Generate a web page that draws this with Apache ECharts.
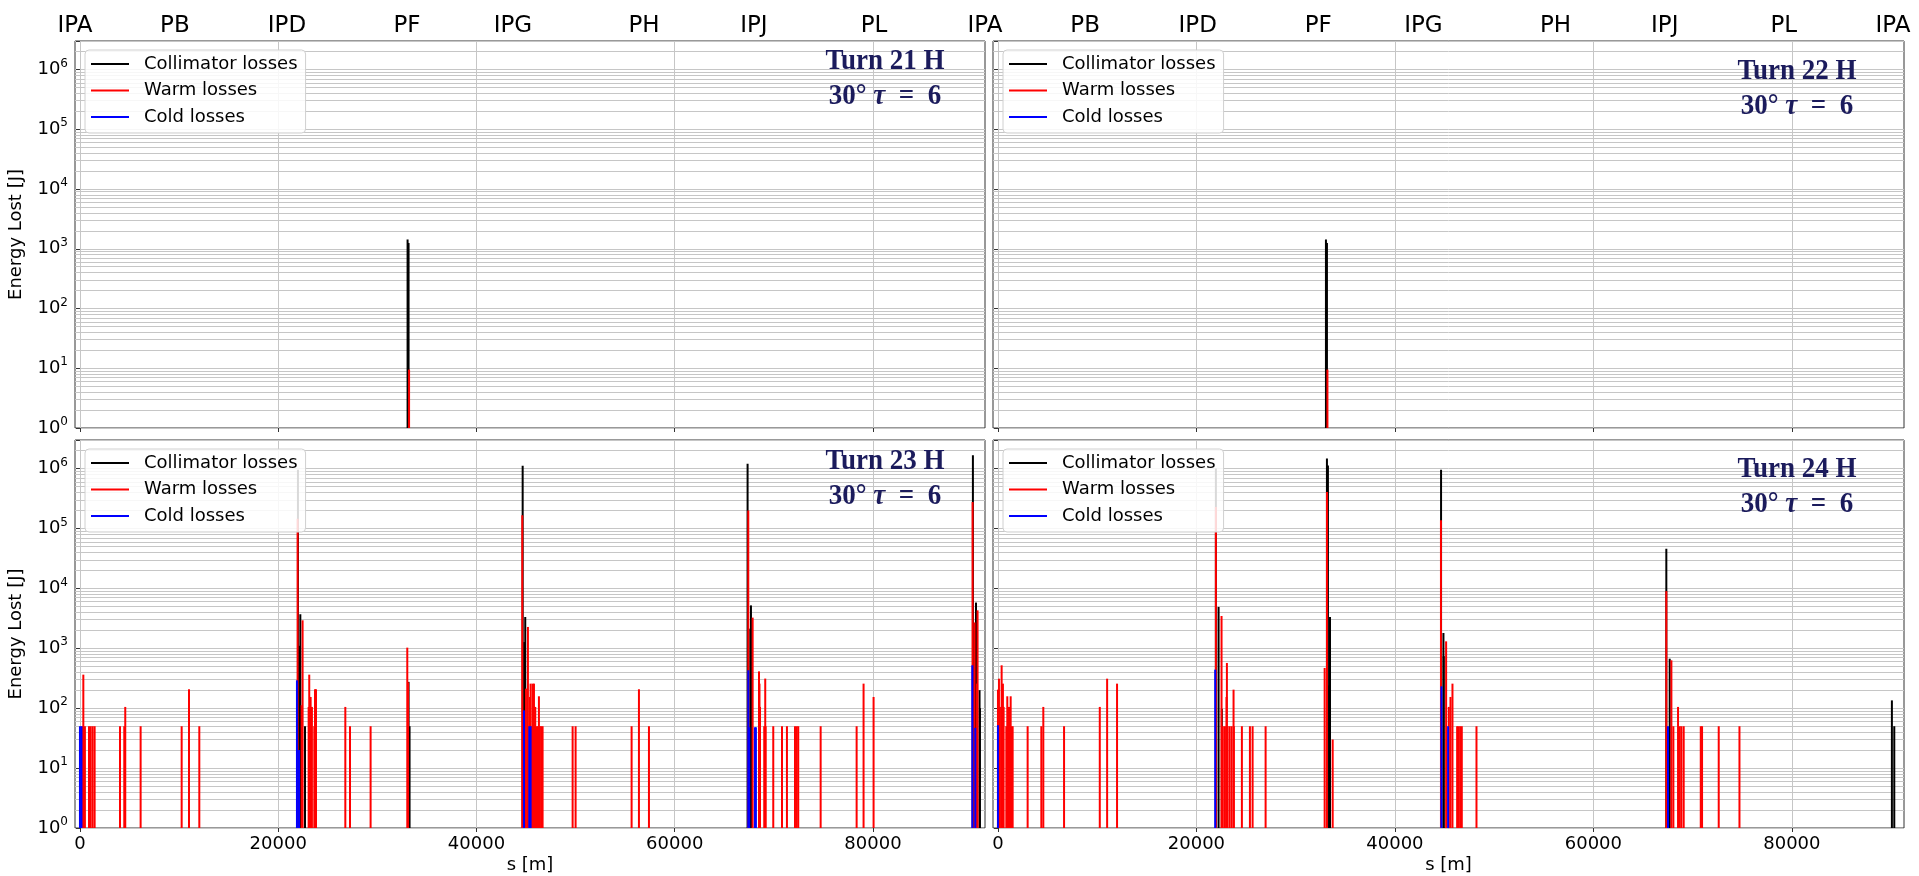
<!DOCTYPE html>
<html><head><meta charset="utf-8">
<script src="https://cdn.jsdelivr.net/npm/echarts@6/dist/echarts.min.js"></script>
<style>html,body{margin:0;padding:0;background:#fff}#c{width:1919px;height:876px}</style>
</head><body><div id="c"></div>
<script>
// ---------------- data ----------------
const seriesNames = ['Collimator losses', 'Warm losses', 'Cold losses'];
const panelTitles = ['Turn 21 H', 'Turn 22 H', 'Turn 23 H', 'Turn 24 H'];
const xTicks = [0, 20000, 40000, 60000, 80000];
const topLabelsLeft = ['IPA', 'PB', 'IPD', 'PF', 'IPG', 'PH', 'IPJ', 'PL', 'IPA'];
const topPosLeft = [-500, 9580, 20880, 32990, 43680, 56900, 67990, 80100, 91300];
const topLabelsRight = ['PB', 'IPD', 'PF', 'IPG', 'PH', 'IPJ', 'PL', 'IPA'];
const topPosRight = [8780, 20130, 32280, 42870, 56190, 67190, 79190, 90190];

// Turn 21 H
const coll21 = [[33050, 1430], [33150, 1250]];
const warm21 = [[33200, 9.5]];
const cold21 = [];
// Turn 22 H
const coll22 = [[33050, 1430], [33150, 1250]];
const warm22 = [[33200, 9.5]];
const cold22 = [];
// Turn 23 H
const coll23 = [[21990, 960000], [22130, 1100], [22230, 3700], [22700, 50],
  [33150, 275], [33250, 50],
  [44660, 1120000], [44820, 1270], [44920, 3330],
  [67350, 1200000], [67620, 2130], [67690, 5200],
  [90080, 1670000], [90390, 5800], [90750, 200], [90790, 100]];
const warm23 = [[235, 50], [340, 363], [500, 50], [910, 50], [1080, 50], [1280, 50], [1480, 50],
  [4040, 50], [4470, 50], [4570, 105], [6120, 50], [10260, 50], [11000, 207], [12040, 50],
  [21960, 146000], [22360, 112], [22460, 2930], [23070, 105], [23130, 363], [23270, 154], [23400, 105],
  [23640, 50], [23710, 207], [23810, 207],
  [26770, 105], [27240, 50], [29320, 50],
  [33020, 1025], [33100, 270],
  [44620, 166000], [44990, 212], [45190, 2270], [45400, 154], [45460, 257], [45600, 50], [45660, 257],
  [45800, 257], [45900, 50], [45930, 105], [46070, 50], [46200, 50], [46300, 158], [46400, 50],
  [46540, 50], [46670, 50],
  [49700, 50], [50000, 50],
  [55650, 50], [56390, 207], [57400, 50],
  [67420, 200000], [67860, 3250], [68500, 412], [68550, 257], [68600, 105], [69030, 50], [69130, 312],
  [69170, 50], [69940, 50], [70820, 50], [71320, 50], [72130, 50], [72300, 50], [72460, 50],
  [74720, 50], [78350, 50], [79050, 257], [80060, 154],
  [90050, 277000], [90250, 2700], [90500, 257], [90550, 4300]];
const cold23 = [[0, 50], [150, 50], [21890, 292], [22100, 20], [44790, 92], [45330, 50], [45460, 50],
  [67420, 430], [67520, 48], [68090, 48], [68190, 48], [90020, 520], [90320, 47]];
// Turn 24 H
const coll24 = [[21960, 1000000], [22230, 4900], [22560, 98],
  [33150, 1470000], [33250, 1130000], [33400, 240], [33460, 3330],
  [44650, 960000], [44890, 1800], [44920, 740],
  [67350, 46000], [67690, 670],
  [90080, 135], [90320, 50]];
const warm24 = [[0, 204], [100, 311], [200, 105], [370, 520], [500, 257], [570, 105], [840, 50],
  [940, 158], [1010, 50], [1110, 105], [1180, 50], [1280, 158], [1350, 50], [1480, 50],
  [2990, 50], [4370, 50], [4570, 105], [6660, 50], [10260, 105], [11000, 311], [12000, 257],
  [21960, 228000], [22530, 3460], [22660, 50], [22870, 50], [23030, 154], [23070, 569], [23130, 50],
  [23340, 50], [23540, 50], [23740, 204], [23770, 50], [24580, 50], [25390, 50], [25660, 50], [26970, 50],
  [32920, 470], [33155, 407000], [33730, 30],
  [44640, 137000], [45160, 1306], [45430, 105], [45600, 154], [45800, 257], [46270, 50], [46400, 50],
  [46570, 50], [46740, 50], [48220, 50],
  [67350, 9000], [67860, 630], [68060, 50], [68530, 105], [68700, 50], [68870, 50], [69100, 50],
  [70820, 50], [70950, 50], [72630, 50], [74720, 50]];
const cold24 = [[0, 52], [21890, 440], [44690, 232], [45360, 50], [67520, 50]];

const panelData = [[coll21, warm21, cold21], [coll22, warm22, cold22], [coll23, warm23, cold23], [coll24, warm24, cold24]];

// ---------------- layout / style ----------------
const colors = ['#000000', '#ff0000', '#0000ff'];
const grids = [
  {left: 75, top: 41, width: 910, height: 387},
  {left: 993, top: 41, width: 911, height: 387},
  {left: 75, top: 440, width: 910, height: 388},
  {left: 993, top: 440, width: 911, height: 388}
];
const annPos = [[885, 61.5, 96], [1797, 71, 106], [885, 461, 496], [1797, 469, 504]];
const XMIN = -500, XMAX = 91300, YMIN = 1, YMAX = 3e6;
const FONT = 'DejaVu Sans';
const gridColor = '#c6c6c6';
const navy = '#1b1b5c';

const minorY = [];
for (let k = 0; k <= 6; k++) for (let m = 2; m <= 9; m++) { const v = m * Math.pow(10, k); if (v < YMAX) minorY.push(v); }

const option = {
  animation: false,
  backgroundColor: '#fff',
  grid: grids.map(g => Object.assign({show: true, borderColor: '#333', borderWidth: 1, backgroundColor: 'transparent', containLabel: false, outerBoundsMode: 'none', z: 0}, g)),
  xAxis: [], yAxis: [], series: [], legend: [], graphic: []
};

grids.forEach((g, i) => {
  const bottomRow = i >= 2, leftCol = i % 2 === 0;
  option.xAxis.push({
    type: 'value', gridIndex: i, min: XMIN, max: XMAX, splitNumber: 5,
    axisLine: {show: false},
    axisTick: {show: true, length: 4, lineStyle: {color: '#333'}, customValues: xTicks},
    axisLabel: {show: bottomRow, customValues: xTicks, fontFamily: FONT, fontSize: 18, color: '#000', margin: 7,
      formatter: v => (xTicks.indexOf(v) >= 0 ? String(v) : '')},
    splitLine: {show: true, lineStyle: {color: gridColor, width: 1}},
    name: bottomRow ? 's [m]' : '', nameLocation: 'middle', nameGap: 28,
    nameTextStyle: {fontFamily: FONT, fontSize: 18, color: '#000'}
  });
  option.yAxis.push({
    type: 'log', gridIndex: i, min: YMIN, max: YMAX, logBase: 10,
    axisLine: {show: false},
    axisTick: {show: true, length: 4, lineStyle: {color: '#333'}},
    axisLabel: {show: leftCol, margin: 7, fontFamily: FONT, color: '#000',
      formatter: v => { const e = Math.log10(v); const r = Math.round(e); return Math.abs(e - r) < 1e-6 ? '{b|10}{s|' + r + '}' : ''; },
      rich: {b: {fontFamily: FONT, fontSize: 18, color: '#000', lineHeight: 24},
             s: {fontFamily: FONT, fontSize: 12, color: '#000', lineHeight: 13, verticalAlign: 'top'}}},
    splitLine: {show: true, lineStyle: {color: gridColor, width: 1}},
    name: leftCol ? 'Energy Lost [J]' : '', nameLocation: 'middle', nameGap: 50,
    nameTextStyle: {fontFamily: FONT, fontSize: 18, color: '#000'}
  });
  // minor grid lines (below the bars)
  option.series.push({
    type: 'line', xAxisIndex: i, yAxisIndex: i, data: [], z: 1, silent: true,
    markLine: {silent: true, z: 1, zlevel: 0, symbol: ['none', 'none'], label: {show: false}, animation: false,
      lineStyle: {color: gridColor, width: 1, type: 'solid'}, emphasis: {disabled: true},
      data: minorY.map(v => ({yAxis: v}))}
  });
  panelData[i].forEach((d, k) => {
    option.series.push({
      type: 'bar', name: seriesNames[k], xAxisIndex: i, yAxisIndex: i, data: d,
      barWidth: 2, barGap: '-100%', z: 2 + k,
      itemStyle: {color: colors[k]}, emphasis: {disabled: true}, silent: true
    });
  });
  option.legend.push({
    orient: 'vertical', left: g.left + 10, top: g.top + 9, z: 10,
    data: seriesNames, icon: 'rect', itemWidth: 38, itemHeight: 2, itemGap: 6.5,
    backgroundColor: 'rgba(255,255,255,0.85)', borderColor: '#d0d0d0', borderWidth: 1, borderRadius: 4,
    padding: [4, 8, 6, 6], selectedMode: false,
    textStyle: {fontFamily: FONT, fontSize: 18, color: '#000', lineHeight: 20, padding: [0, 0, 0, 10]}
  });
  const a = annPos[i];
  option.graphic.push({
    type: 'text', x: a[0], y: a[1], scaleX: 0.9, z: 100, silent: true,
    style: {text: panelTitles[i], font: 'bold 30px "Liberation Serif"', fill: navy, align: 'center', verticalAlign: 'middle'}
  });
  option.graphic.push({
    type: 'text', x: a[0], y: a[2], scaleX: 0.9, z: 100, silent: true,
    style: {text: '{n|30° }{t|τ}{n|  =  6}', align: 'center', verticalAlign: 'middle',
      rich: {n: {fontFamily: 'Liberation Serif', fontWeight: 'bold', fontSize: 30, fill: navy},
             t: {fontFamily: 'Liberation Serif', fontWeight: 'bold', fontStyle: 'italic', fontSize: 30, fill: navy}}}
  });
});

// top station labels (top row only)
[[0, topLabelsLeft, topPosLeft], [1, topLabelsRight, topPosRight]].forEach(([gi, names, pos]) => {
  option.xAxis.push({
    type: 'value', gridIndex: gi, position: 'top', min: XMIN, max: XMAX,
    axisLine: {show: false}, axisTick: {show: false}, splitLine: {show: false},
    axisLabel: {show: true, customValues: pos, fontFamily: FONT, fontSize: 23, color: '#000', margin: 3,
      showMinLabel: true, showMaxLabel: true, hideOverlap: false,
      formatter: v => { const j = pos.indexOf(v); return j >= 0 ? names[j] : ''; }}
  });
});

const chart = echarts.init(document.getElementById('c'), null, {renderer: 'canvas'});
chart.setOption(option);
</script>
</body></html>
